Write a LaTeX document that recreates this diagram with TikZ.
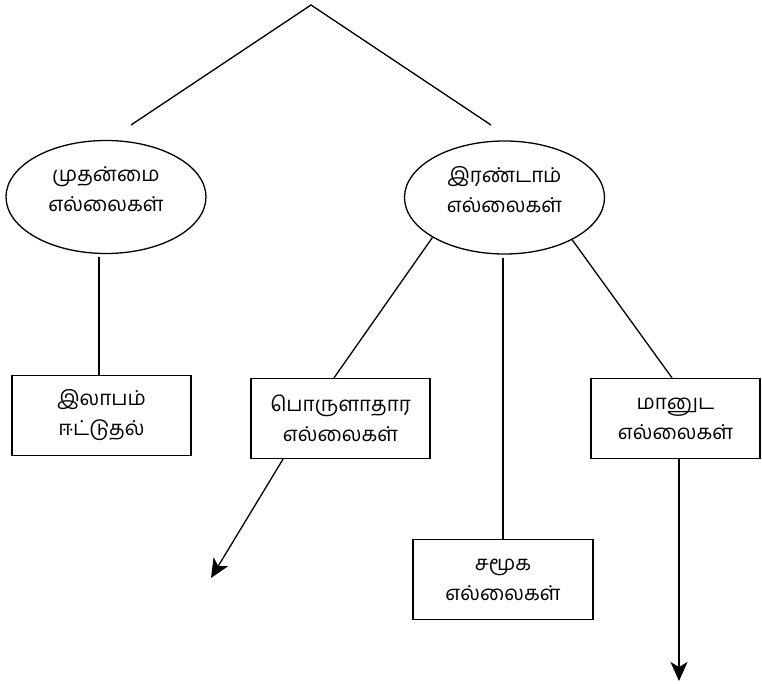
\documentclass[tikz,border=0pt]{standalone}
\usepackage{fontspec}
\newfontfamily\tamilfont[Script=Tamil]{Hind Madurai}
\usetikzlibrary{shapes.geometric,arrows.meta,calc}

\begin{document}
\begin{tikzpicture}[x=1pt,y=-1pt,
  label text/.style={font=\tamilfont\fontsize{20.5}{30}\selectfont, align=center, inner sep=0pt},
  oval/.style={label text, draw, ellipse, line width=1.3pt, minimum width=200pt, minimum height=113pt, text depth=16pt},
  boxnode/.style={label text, draw, rectangle, line width=1.3pt, minimum height=80pt},
  link/.style={line width=1.3pt},
  arrowlink/.style={line width=1.3pt, -{Stealth[length=19pt,width=17pt,inset=5pt]}}]
\useasboundingbox (0,0) rectangle (762,684);

% the two kinds of limits
\node[oval] (prim) at (106,197) {முதன்மை\\எல்லைகள்};
\node[oval] (sec) at (504.5,197.5) {இரண்டாம்\\எல்லைகள்};

% leaves
\node[boxnode, minimum width=179pt] (profit) at (101.5,415.5) {இலாபம்\\ஈட்டுதல்};
\node[boxnode, minimum width=179pt] (econ) at (340.5,418.5) {பொருளாதார\\எல்லைகள்};
\node[boxnode, minimum width=180pt] (soc) at (503,579.5) {சமூக\\எல்லைகள்};
\node[boxnode, minimum width=169pt] (hum) at (675.5,418.5) {மானுட\\எல்லைகள்};

% top fork
\coordinate (apex) at (311,5);
\coordinate (topL) at (131,125);
\coordinate (topR) at (491,125);
\draw[link] (topL) -- (apex) -- (topR);

% branches
\draw[link] ($(prim.south)+(-7,3)$) -- ($(profit.north)+(-2.5,0)$);
\draw[link] (sec.209) -- ($(econ.north)+(-6.5,0)$);
\draw[link] ($(soc.north |- sec.south)+(0,3)$) -- (soc.north);
\draw[link] (sec.328) -- ($(hum.north)+(-3.5,0)$);

% open-ended arrows
\coordinate (econEnd) at (211,578);
\coordinate (humEnd) at (679,681);
\draw[arrowlink] ($(econ.south)+(-57.5,0)$) -- (econEnd);
\draw[arrowlink] ($(hum.south)+(3.5,0)$) -- (humEnd);
\end{tikzpicture}
\end{document}
